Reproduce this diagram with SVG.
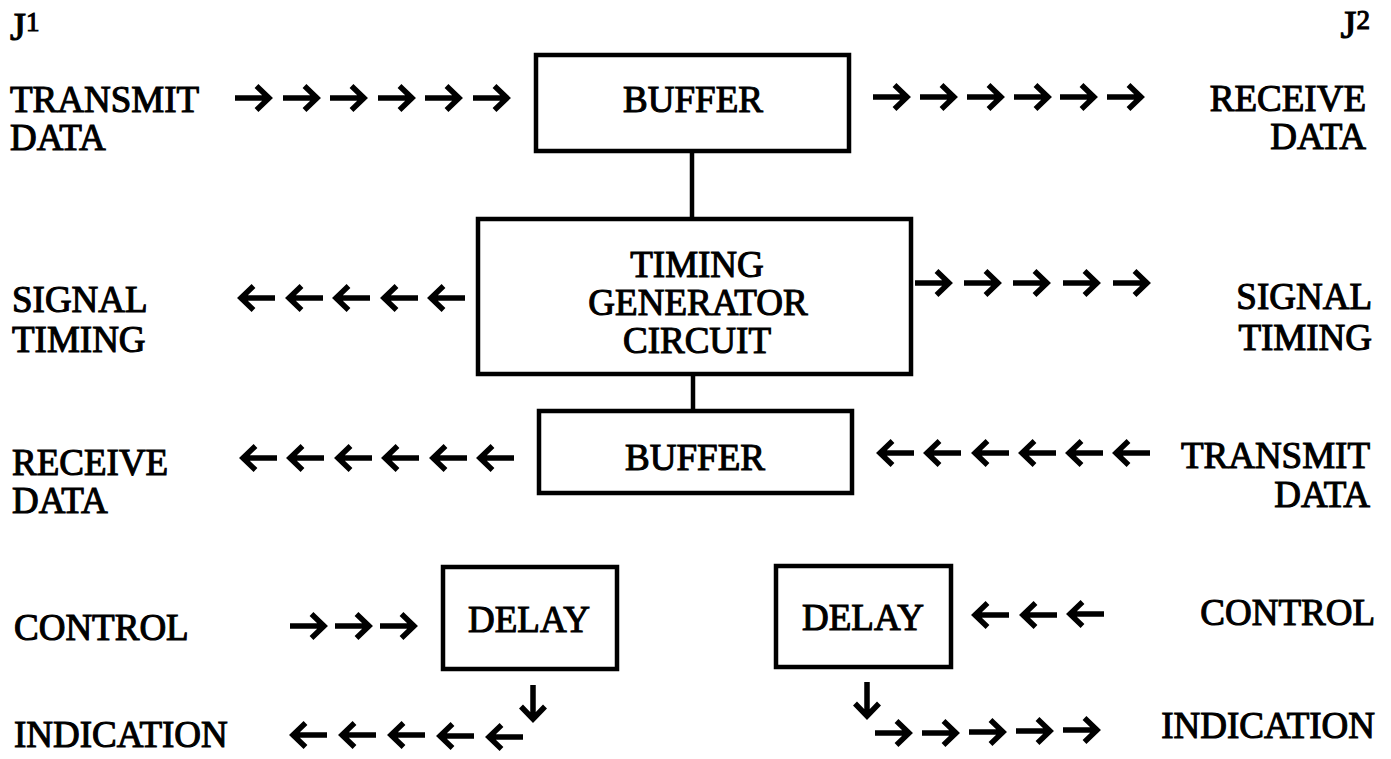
<svg xmlns="http://www.w3.org/2000/svg" xmlns:xlink="http://www.w3.org/1999/xlink" width="1391" height="759" viewBox="0 0 1391 759">
  <style>
    .lbl { font-family: "Liberation Serif", "Times New Roman", serif; font-size: 37px; fill: #000; stroke: #000; stroke-width: 1.1px; }
    .end { text-anchor: end; }
    .mid { text-anchor: middle; }
    .jack { font-size: 41px; }
    .sup { font-size: 27px; }
    .box { fill: #fff; stroke: #000; stroke-width: 4.5; }
    .wire { fill: none; stroke: #000; stroke-width: 4.5; }
  </style>
  <defs>
    <!-- right-pointing arrow, origin at tail centre, 37 px long -->
    <path id="ar" d="M0 0 H34 M21.5 -12 L34 0 L21.5 12" fill="none" stroke="#000" stroke-width="5.5" stroke-linejoin="miter" stroke-linecap="butt"/>
    <use id="al" xlink:href="#ar" transform="translate(37 0) scale(-1 1)"/>
  </defs>
  <rect width="1391" height="759" fill="#fff"/>

  <!-- connector labels -->
  <g id="labels">
    <text class="lbl jack" x="10" y="40">J<tspan class="sup" dy="-9">1</tspan></text>
    <text class="lbl jack end" x="1370" y="38">J<tspan class="sup" dy="-9">2</tspan></text>

    <text class="lbl" x="10" y="112">TRANSMIT</text>
    <text class="lbl" x="10" y="150">DATA</text>
    <text class="lbl end" x="1366" y="111">RECEIVE</text>
    <text class="lbl end" x="1366" y="149">DATA</text>

    <text class="lbl" x="12" y="312">SIGNAL</text>
    <text class="lbl" x="12" y="352">TIMING</text>
    <text class="lbl end" x="1372" y="309">SIGNAL</text>
    <text class="lbl end" x="1372" y="350">TIMING</text>

    <text class="lbl" x="12" y="475">RECEIVE</text>
    <text class="lbl" x="12" y="513">DATA</text>
    <text class="lbl end" x="1370" y="468">TRANSMIT</text>
    <text class="lbl end" x="1370" y="507">DATA</text>

    <text class="lbl" x="14" y="640">CONTROL</text>
    <text class="lbl" x="14" y="747">INDICATION</text>
    <text class="lbl end" x="1375" y="625">CONTROL</text>
    <text class="lbl end" x="1375" y="738">INDICATION</text>
  </g>

  <g id="buffer-tx">
    <rect class="box" x="536" y="55" width="313" height="96"/>
    <text class="lbl mid" x="693" y="112">BUFFER</text>
  </g>

  <g id="timing-generator">
    <rect class="box" x="478" y="219" width="433" height="155"/>
    <text class="lbl mid" x="697" y="277">TIMING</text>
    <text class="lbl mid" x="698" y="315">GENERATOR</text>
    <text class="lbl mid" x="697" y="353">CIRCUIT</text>
  </g>

  <g id="buffer-rx">
    <rect class="box" x="539" y="411" width="313" height="82"/>
    <text class="lbl mid" x="695" y="470">BUFFER</text>
  </g>

  <g id="delay-left">
    <rect class="box" x="443" y="567" width="174" height="102"/>
    <text class="lbl mid" x="529" y="632">DELAY</text>
  </g>

  <g id="delay-right">
    <rect class="box" x="776" y="566" width="175" height="101"/>
    <text class="lbl mid" x="863" y="630">DELAY</text>
  </g>

  <g id="connectors">
    <line class="wire" x1="692" y1="151" x2="692" y2="219"/>
    <line class="wire" x1="693" y1="374" x2="693" y2="411"/>

    <!-- row 1: transmit data in, receive data out -->
    <use xlink:href="#ar" x="235" y="98"/>
    <use xlink:href="#ar" x="283" y="98"/>
    <use xlink:href="#ar" x="330" y="98"/>
    <use xlink:href="#ar" x="378" y="98"/>
    <use xlink:href="#ar" x="425" y="98"/>
    <use xlink:href="#ar" x="473" y="98"/>

    <use xlink:href="#ar" x="873" y="97"/>
    <use xlink:href="#ar" x="920" y="97"/>
    <use xlink:href="#ar" x="967" y="97"/>
    <use xlink:href="#ar" x="1014" y="97"/>
    <use xlink:href="#ar" x="1060" y="97"/>
    <use xlink:href="#ar" x="1107" y="97"/>

    <!-- row 2: signal timing both ways -->
    <use xlink:href="#al" x="238" y="298"/>
    <use xlink:href="#al" x="286" y="298"/>
    <use xlink:href="#al" x="333" y="298"/>
    <use xlink:href="#al" x="381" y="298"/>
    <use xlink:href="#al" x="428" y="298"/>

    <use xlink:href="#ar" x="915" y="283"/>
    <use xlink:href="#ar" x="964" y="283"/>
    <use xlink:href="#ar" x="1013" y="283"/>
    <use xlink:href="#ar" x="1063" y="283"/>
    <use xlink:href="#ar" x="1113" y="283"/>

    <!-- row 3: receive data out, transmit data in -->
    <use xlink:href="#al" x="240" y="458"/>
    <use xlink:href="#al" x="287" y="458"/>
    <use xlink:href="#al" x="335" y="458"/>
    <use xlink:href="#al" x="382" y="458"/>
    <use xlink:href="#al" x="430" y="458"/>
    <use xlink:href="#al" x="477" y="458"/>

    <use xlink:href="#al" x="877" y="453"/>
    <use xlink:href="#al" x="924" y="453"/>
    <use xlink:href="#al" x="972" y="453"/>
    <use xlink:href="#al" x="1019" y="453"/>
    <use xlink:href="#al" x="1066" y="453"/>
    <use xlink:href="#al" x="1113" y="453"/>

    <!-- row 4: control into delays -->
    <use xlink:href="#ar" x="290" y="626"/>
    <use xlink:href="#ar" x="335" y="626"/>
    <use xlink:href="#ar" x="380" y="626"/>

    <use xlink:href="#al" x="972" y="615"/>
    <use xlink:href="#al" x="1020" y="615"/>
    <use xlink:href="#al" x="1067" y="614"/>

    <!-- delay outputs -->
    <use xlink:href="#ar" transform="translate(533 685) rotate(90)"/>
    <use xlink:href="#ar" transform="translate(867 682) rotate(90)"/>

    <!-- row 5: indication -->
    <use xlink:href="#al" x="290" y="735"/>
    <use xlink:href="#al" x="339" y="735"/>
    <use xlink:href="#al" x="388" y="735"/>
    <use xlink:href="#al" x="437" y="736"/>
    <use xlink:href="#al" x="486" y="737"/>

    <use xlink:href="#ar" x="875" y="733"/>
    <use xlink:href="#ar" x="922" y="733"/>
    <use xlink:href="#ar" x="969" y="732"/>
    <use xlink:href="#ar" x="1016" y="731"/>
    <use xlink:href="#ar" x="1063" y="730"/>
  </g>
</svg>
